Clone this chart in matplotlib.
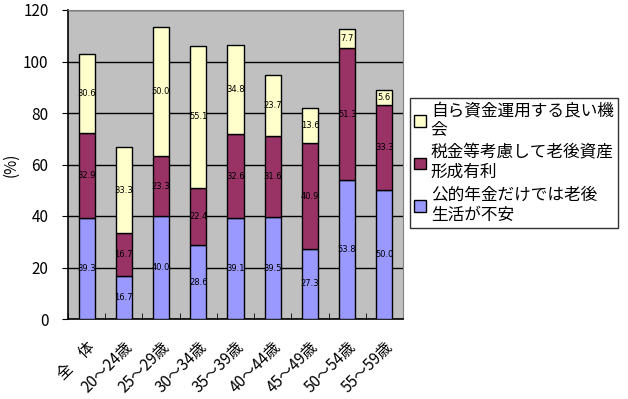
import matplotlib
matplotlib.use("Agg")
import matplotlib.pyplot as plt
import numpy as np

plt.rcParams['font.family'] = ['Noto Sans CJK JP', 'DejaVu Sans']

# categories and stacked series (%)
groups = ["全　体", "20～24歳", "25～29歳", "30～34歳", "35～39歳",
          "40～44歳", "45～49歳", "50～54歳", "55～59歳"]
kouteki = [39.3, 16.7, 40.0, 28.6, 39.1, 39.5, 27.3, 53.8, 50.0]
zeikin = [32.9, 16.7, 23.3, 22.4, 32.6, 31.6, 40.9, 51.3, 33.3]
jiyu = [30.6, 33.3, 50.0, 55.1, 34.8, 23.7, 13.6, 7.7, 5.6]

names = ["自ら資金運用する良い機\n会", "税金等考慮して老後資産\n形成有利",
         "公的年金だけでは老後\n生活が不安"]
colors = ["#FFFFCC", "#993366", "#9999FF"]

fig = plt.figure(figsize=(6.28, 3.99), dpi=100)
ax = fig.add_axes([68/628, 1-319/399, 335/628, 309/399])
ax.set_facecolor("#C0C0C0")

x = np.arange(len(groups))
w = 0.43
series = [kouteki, zeikin, jiyu]
cols = [colors[2], colors[1], colors[0]]
bottom = np.zeros(len(groups))
handles = []
for vals, c in zip(series, cols):
    b = ax.bar(x, vals, w, bottom=bottom, color=c, edgecolor="black", linewidth=1, zorder=3)
    handles.append(b)
    for xi, v, bt in zip(x, vals, bottom):
        ax.text(xi, bt + v/2, "%.1f" % v, ha="center", va="center", fontsize=6,
                family="DejaVu Sans", zorder=4)
    bottom += np.array(vals)

ax.set_xlim(-0.5, len(groups) - 0.5)
ax.set_ylim(0, 120)
ax.set_yticks(range(0, 121, 20))
ax.yaxis.grid(True, color="black", linewidth=1, zorder=1)
ax.tick_params(axis="y", length=4, labelsize=11, direction="out", pad=10)
ax.set_xticks(np.arange(len(groups) + 1) - 0.5, minor=True)
ax.set_xticks(x)
ax.set_xticklabels(groups, rotation=45, ha="right", rotation_mode="anchor", fontsize=11)
ax.tick_params(axis="x", which="major", length=0, pad=14)
ax.tick_params(axis="x", which="minor", length=4, direction="in")
ax.set_ylabel("(%)", fontsize=11)
ax.yaxis.set_label_coords(-49/335, 0.5)
for s in ["top", "right"]:
    ax.spines[s].set_color("#808080")
for s in ["left", "bottom"]:
    ax.spines[s].set_color("black")
    ax.spines[s].set_linewidth(1.2)

leg = fig.legend([handles[2], handles[1], handles[0]], names,
                 loc="upper left", bbox_to_anchor=(410/628, 1-98/399),
                 fontsize=12, frameon=True, fancybox=False, edgecolor="black",
                 handlelength=0.7, handleheight=0.7, handletextpad=0.3,
                 labelspacing=0.35, borderpad=0.25, borderaxespad=0)
leg.get_frame().set_linewidth(1)

fig.savefig("out.png", dpi=100)
